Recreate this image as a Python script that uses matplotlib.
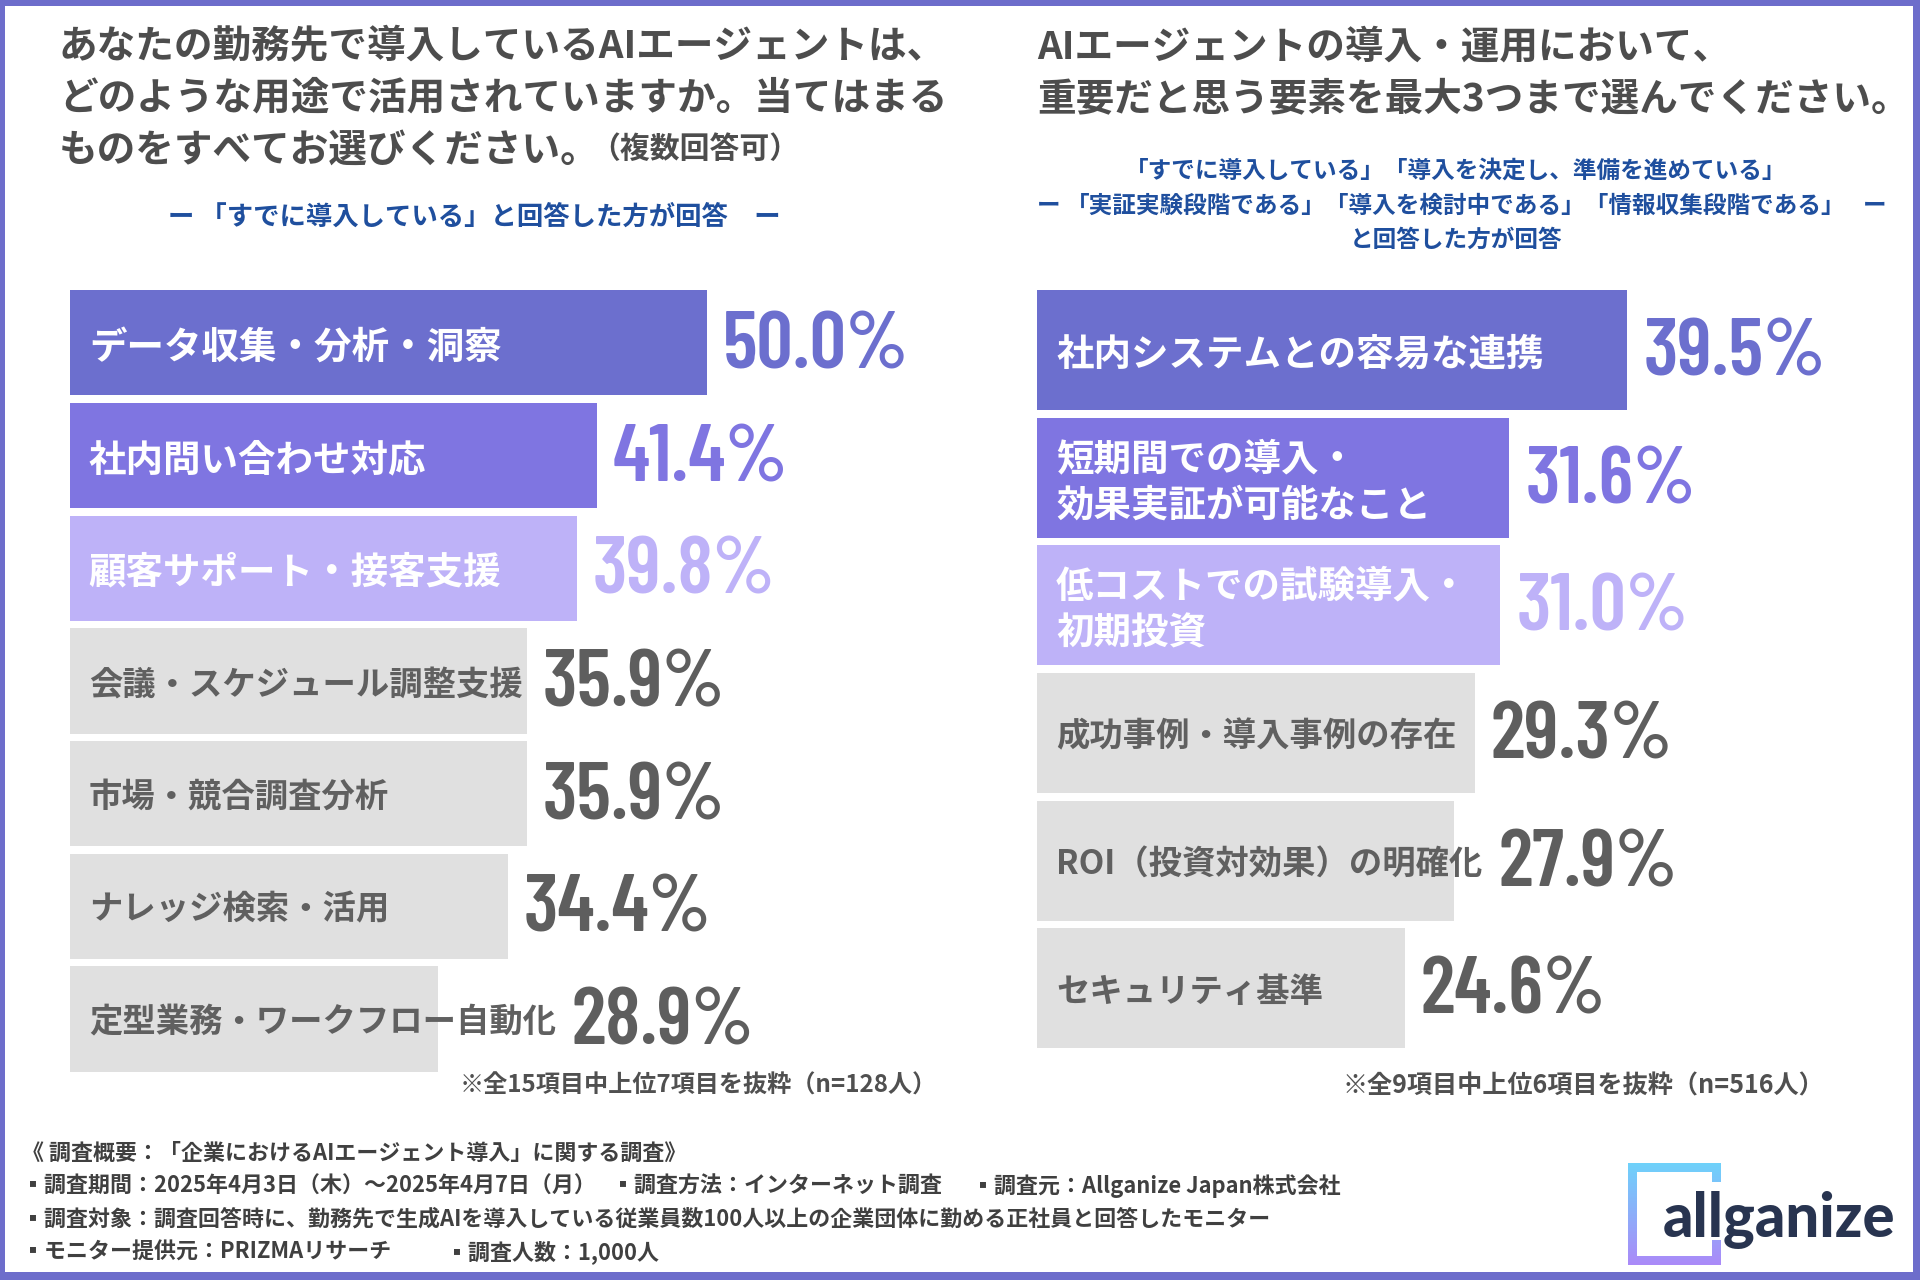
import os
import numpy as np
import matplotlib
matplotlib.use("Agg")
import matplotlib.pyplot as plt
from matplotlib import font_manager as fm
from matplotlib.patches import Rectangle
from matplotlib.path import Path

JP = ['Noto Sans CJK JP', 'DejaVu Sans']
plt.rcParams['font.family'] = JP

W, H = 1920, 1280

# ---- data ----
left_labels = ['データ収集・分析・洞察', '社内問い合わせ対応', '顧客サポート・接客支援',
               '会議・スケジュール調整支援', '市場・競合調査分析', 'ナレッジ検索・活用',
               '定型業務・ワークフロー自動化']
left_values = [50.0, 41.4, 39.8, 35.9, 35.9, 34.4, 28.9]

right_labels = ['社内システムとの容易な連携', '短期間での導入・\n効果実証が可能なこと',
                '低コストでの試験導入・\n初期投資', '成功事例・導入事例の存在',
                'ROI（投資対効果）の明確化', 'セキュリティ基準']
right_values = [39.5, 31.6, 31.0, 29.3, 27.9, 24.6]

left_title = ['あなたの勤務先で導入しているAIエージェントは、',
              'どのような用途で活用されていますか。当てはまる',
              'ものをすべてお選びください。']
left_title_tail = '（複数回答可）'
left_sub = 'ー 「すでに導入している」と回答した方が回答　ー'
left_note = '※全15項目中上位7項目を抜粋（n=128人）'

right_title = ['AIエージェントの導入・運用において、',
               '重要だと思う要素を最大3つまで選んでください。']
right_sub = ['「すでに導入している」「導入を決定し、準備を進めている」',
             '「実証実験段階である」「導入を検討中である」「情報収集段階である」',
             'と回答した方が回答']
right_note = '※全9項目中上位6項目を抜粋（n=516人）'

footer = [
    ['《 調査概要：「企業におけるAIエージェント導入」に関する調査》'],
    ['▪調査期間：2025年4月3日（木）～2025年4月7日（月）', '▪調査方法：インターネット調査',
     '▪調査元：Allganize Japan株式会社'],
    ['▪調査対象：調査回答時に、勤務先で生成AIを導入している従業員数100人以上の企業団体に勤める正社員と回答したモニター'],
    ['▪モニター提供元：PRIZMAリサーチ', '▪調査人数：1,000人'],
]

ACCENT = ['#6C6FCE', '#7F75E1', '#BEB2F8']
GRAY_BAR = '#E0E0E0'
GRAY_TXT = '#606060'
GRAY_VAL = '#5E5E5E'
TITLE_C = '#4D4D4D'
SUB_C = '#1F4F9E'
FRAME_C = '#6D6DCB'


# condensed face for the big percentages
def find_narrow():
    prefs = ['BarlowCondensed-SemiBold', 'BarlowCondensed-Bold', 'RobotoCondensed-Bold',
             'AsapCondensed-SemiBold', 'LiberationSansNarrow-Bold', 'NotoSans-CondensedBold',
             'DejaVuSansCondensed-Bold']
    files = [f.fname for f in fm.fontManager.ttflist]
    for p in prefs:
        for f in files:
            if os.path.basename(f).split('.')[0] == p:
                return f
    return None


narrow = find_narrow()
if narrow:
    NUM = dict(fontproperties=fm.FontProperties(fname=narrow, size=58))
else:
    NUM = dict(fontsize=46, fontweight='bold')

fig = plt.figure(figsize=(W / 100, H / 100), dpi=100)
fig.patch.set_facecolor(FRAME_C)

bg = fig.add_axes([0, 0, 1, 1])
bg.set_xlim(0, W)
bg.set_ylim(H, 0)
bg.axis('off')
bg.add_patch(Rectangle((5, 6), W - 5 - 7, H - 6 - 8, facecolor='white', edgecolor='none'))

# ---- titles ----
for i, line in enumerate(left_title):
    t = bg.text(59, 47 + i * 51.5, line, fontsize=27.8, fontweight='bold', color=TITLE_C,
                ha='left', va='center')
bg.annotate(left_title_tail, xy=(1, 0.5), xycoords=t, xytext=(-10, 1), textcoords='offset pixels',
            fontsize=21.5, fontweight='bold', color=TITLE_C, ha='left', va='center')
bg.text(474, 217, left_sub, fontsize=19, fontweight='bold', color=SUB_C, ha='center', va='center')

for i, line in enumerate(right_title):
    bg.text(1037, 47 + i * 51.5, line, fontsize=27.8, fontweight='bold', color=TITLE_C,
            ha='left', va='center')
for i, line in enumerate(right_sub):
    bg.text(1456, 171 + i * 34.5, line, fontsize=17, fontweight='bold', color=SUB_C,
            ha='center', va='center')
bg.text(1049, 205.5, 'ー', fontsize=17, fontweight='bold', color=SUB_C, ha='center', va='center')
bg.text(1875, 205.5, 'ー', fontsize=17, fontweight='bold', color=SUB_C, ha='center', va='center')

bg.text(937, 1086, left_note, fontsize=17.4, fontweight='bold', color='#505050', ha='right', va='center')
bg.text(1824, 1086, right_note, fontsize=18.1, fontweight='bold', color='#505050', ha='right', va='center')

# ---- footer ----
footer_x = [[22], [22, 612, 972], [22], [22, 446]]
for row, (items, xs) in enumerate(zip(footer, footer_x)):
    for s, x in zip(items, xs):
        bg.text(x, 1153 + row * 33, s, fontsize=15.8, fontweight='bold', color='#404040',
                ha='left', va='center')

# ---- logo ----
rects = [(1628, 1163, 9, 102), (1628, 1163, 93, 9), (1628, 1256, 93, 9),
         (1712, 1163, 9, 19), (1712, 1240, 9, 25)]
frame_path = Path.make_compound_path(*[
    Path([(x, y), (x + w, y), (x + w, y + h), (x, y + h), (x, y)],
         [Path.MOVETO, Path.LINETO, Path.LINETO, Path.LINETO, Path.CLOSEPOLY])
    for x, y, w, h in rects])
grad = np.linspace(0, 1, 256).reshape(-1, 1)
cmap = matplotlib.colors.LinearSegmentedColormap.from_list('logo', ['#6FD2FB', '#AB8AF8'])
im = bg.imshow(grad, cmap=cmap, extent=(1628, 1721, 1265, 1163), aspect='auto', zorder=3)
im.set_clip_path(frame_path, bg.transData)
bg.set_xlim(0, W)
bg.set_ylim(H, 0)
bg.text(1663, 1237, 'allganize', fontsize=43, fontweight='black', family=['Lato', 'DejaVu Sans'],
        color='#283450', ha='left', va='baseline', zorder=4)


# ---- bar panels ----
def bar_panel(x0, y_top, x1, pitch, bar_h, px_per_pct, labels, values):
    n = len(values)
    y1 = y_top + (n - 1) * pitch + bar_h
    ax = fig.add_axes([x0 / W, 1 - y1 / H, (x1 - x0) / W, (y1 - y_top) / H])
    ax.patch.set_alpha(0)
    hfrac = bar_h / pitch
    pos = np.arange(n)
    colors = [ACCENT[i] if i < 3 else GRAY_BAR for i in range(n)]
    ax.barh(pos, values, height=hfrac, color=colors, edgecolor='none')
    ax.set_xlim(0, (x1 - x0) / px_per_pct)
    ax.set_ylim(n - 1 + hfrac / 2, -hfrac / 2)
    ax.axis('off')

    renderer = fig.canvas.get_renderer()
    for i, (lab, v) in enumerate(zip(labels, values)):
        size = 27 if i < 3 else 24
        tcol = 'white' if i < 3 else GRAY_TXT
        lines = lab.split('\n')
        line_px = size * 100 / 72 * 1.24
        right_edge = 0
        for k, line in enumerate(lines):
            dy = ((len(lines) - 1) / 2 - k) * line_px - 4
            t = ax.annotate(line, (0, i), xytext=(19, dy), textcoords='offset pixels',
                            fontsize=size, fontweight='bold', color=tcol, ha='left', va='center')
            bb = t.get_window_extent(renderer)
            right_edge = max(right_edge, ax.transData.inverted().transform((bb.x1, 0))[0])
        vx = max(v, right_edge)
        vcol = ACCENT[i] if i < 3 else GRAY_VAL
        ax.annotate(f'{v:.1f}%', (vx, i), xytext=(16, -5), textcoords='offset pixels',
                    color=vcol, ha='left', va='center', **NUM)
    return ax


bar_panel(69.8, 290.2, 960, 112.7, 105.3, 12.735, left_labels, left_values)
bar_panel(1037.2, 290.2, 1900, 127.6, 120, 14.94, right_labels, right_values)

fig.savefig('out.png', dpi=100, facecolor=fig.get_facecolor())
